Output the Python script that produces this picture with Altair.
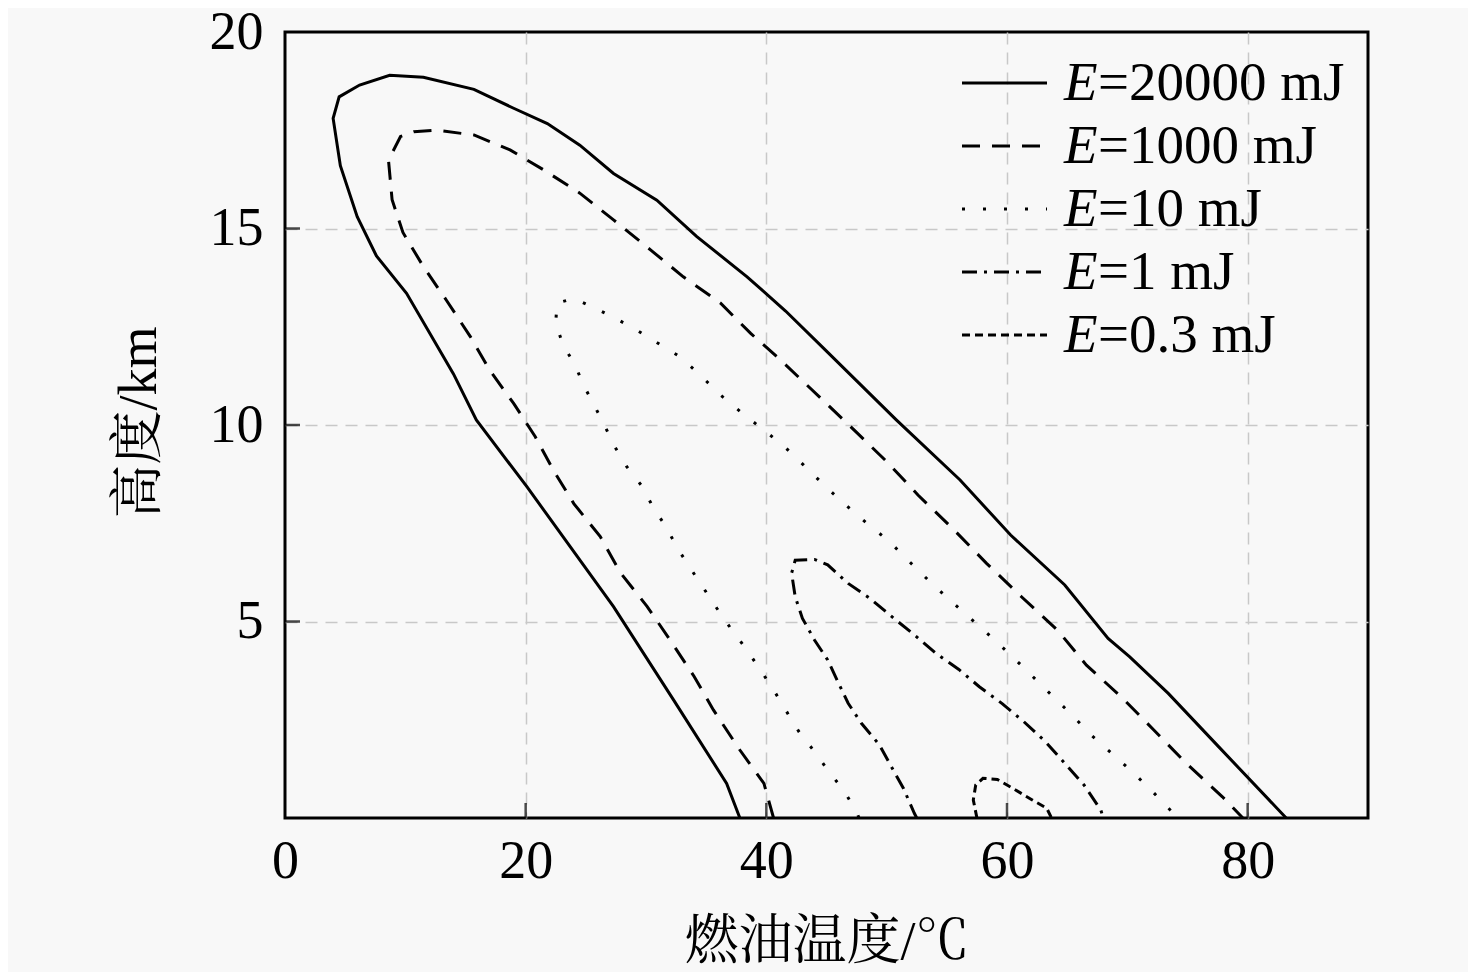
import altair as alt
import pandas as pd

# ---- data ----
t20000 = [37.8, 36.7, 32.3, 27.3, 20.1, 15.9, 14.0, 10.1, 7.6, 6.0, 4.6, 4.0, 4.5, 6.2, 8.7, 11.5,
          15.7, 19.0, 21.8, 24.5, 27.3, 30.9, 34.2, 38.4, 41.6, 45.0, 50.8, 56.1, 60.3, 64.8, 68.4,
          70.2, 73.4, 77.6, 83.2]
h20000 = [0, 0.88, 3.0, 5.38, 8.43, 10.13, 11.3, 13.35, 14.3, 15.3, 16.6, 17.8, 18.35, 18.65, 18.9,
          18.85, 18.54, 18.06, 17.67, 17.12, 16.4, 15.72, 14.8, 13.77, 12.9, 11.88, 10.13, 8.6, 7.2,
          5.93, 4.57, 4.1, 3.17, 1.81, 0]

t1000 = [40.6, 39.8, 37.8, 35.6, 34.0, 32.0, 30.1, 27.9, 26.2, 24.0, 22.3, 20.8, 19.0, 17.0, 15.4,
         13.4, 11.5, 9.8, 8.9, 8.6, 9.6, 10.7, 12.6, 15.7, 18.7, 21.5, 24.5, 27.3, 30.4, 33.1, 36.2,
         38.7, 41.2, 47.0, 50.0, 52.6, 55.6, 58.3, 61.2, 64.2, 66.6, 69.6, 72.2, 74.9, 77.9, 79.6]
h1000 = [0, 0.88, 1.73, 2.75, 3.6, 4.53, 5.38, 6.23, 7.16, 8.0, 8.85, 9.7, 10.55, 11.4, 12.25, 13.18,
         14.03, 14.9, 15.73, 16.74, 17.34, 17.46, 17.5, 17.38, 17.0, 16.49, 15.9, 15.22, 14.45, 13.77,
         13.1, 12.33, 11.65, 9.96, 9.07, 8.22, 7.33, 6.48, 5.63, 4.78, 3.89, 3.05, 2.24, 1.39, 0.54, 0]

t10 = [47.7, 47.5, 46.5, 45.2, 44.0, 42.7, 41.6, 40.6, 39.5, 38.4, 37.1, 35.9, 34.8, 33.7, 32.6,
       31.7, 30.6, 29.7, 28.4, 27.4, 26.6, 25.7, 24.8, 24.1, 23.1, 22.5, 22.6, 24.0, 25.8, 27.6,
       29.2, 31.0, 32.8, 34.5, 36.2, 38.0, 39.8, 41.5, 43.1, 44.8, 46.5, 48.3, 50.1, 51.7, 53.4,
       55.2, 56.8, 58.6, 60.3, 62.0, 63.7, 65.4, 67.0, 68.8, 70.4, 72.1, 73.7, 74.0]
h10 = [0, 0.16, 0.67, 1.18, 1.69, 2.2, 2.75, 3.26, 3.77, 4.27, 4.8, 5.33, 5.84, 6.35, 6.87, 7.39,
       7.9, 8.43, 8.94, 9.45, 9.96, 10.5, 11.02, 11.53, 12.04, 12.59, 13.1, 13.22, 12.97, 12.69,
       12.42, 12.08, 11.74, 11.27, 10.76, 10.3, 9.87, 9.45, 8.98, 8.47, 7.99, 7.51, 7.07, 6.58,
       6.07, 5.56, 5.12, 4.63, 4.15, 3.64, 3.13, 2.62, 2.11, 1.62, 1.18, 0.67, 0.16, 0]

t1 = [52.5, 52.3, 51.4, 50.4, 49.4, 47.9, 46.8, 46.0, 45.1, 44.0, 43.0, 42.4, 42.1, 42.4, 44.0,
      45.1, 46.8, 48.6, 50.6, 52.3, 54.1, 56.0, 57.7, 59.6, 61.4, 63.2, 64.8, 66.4, 67.8, 68.0]
h1 = [0, 0.12, 0.75, 1.3, 1.86, 2.41, 2.92, 3.43, 4.02, 4.53, 5.08, 5.63, 6.23, 6.56, 6.58, 6.44,
      5.97, 5.59, 5.08, 4.66, 4.19, 3.78, 3.34, 2.91, 2.45, 1.94, 1.39, 0.84, 0.2, 0]

t03 = [57.5, 57.2, 57.4, 58.0, 59.2, 60.5, 62.1, 63.3, 63.7]
h03 = [0, 0.46, 0.84, 1.01, 0.98, 0.75, 0.46, 0.25, 0]

energy_labels = ["20000", "1000", "10", "1", "0.3"]
x_ticks = [0, 20, 40, 60, 80]
y_ticks = [5, 10, 15, 20]

# ---- styling ----
FONT = "'Liberation Serif', 'Times New Roman', 'Noto Serif CJK SC', 'Noto Sans CJK SC', serif"
dashes = [None, [18, 12], [3, 18], [15, 7, 3, 7], [8, 5]]
series = [(t20000, h20000), (t1000, h1000), (t10, h10), (t1, h1), (t03, h03)]

X = alt.X("t:Q",
          scale=alt.Scale(domain=[0, 90], nice=False, zero=False),
          axis=alt.Axis(values=x_ticks, title="燃油温度/℃", labelPadding=16,
                        titleY=140, titleBaseline="alphabetic",
                        gridOpacity={"condition": {"test": "datum.value == 0", "value": 0}, "value": 1}))
Y = alt.Y("h:Q",
          scale=alt.Scale(domain=[0, 20], nice=False, zero=False),
          axis=alt.Axis(values=y_ticks, title="高度/km", labelPadding=22,
                        titleX=-130, titleY=390, titleAngle=270, titleBaseline="alphabetic",
                        titleAlign="center",
                        gridOpacity={"condition": {"test": "datum.value == 20", "value": 0}, "value": 1}))

layers = []
for (ts, hs), d in zip(series, dashes):
    df = pd.DataFrame({"t": ts, "h": hs, "i": range(len(ts))})
    kw = dict(color="black", strokeWidth=3)
    if d is not None:
        kw["strokeDash"] = d
    layers.append(alt.Chart(df).mark_line(**kw).encode(x=X, y=Y, order="i:Q"))

# inward tick marks
bx = pd.DataFrame({"t": x_ticks[1:]})
layers.append(alt.Chart(bx).mark_tick(orient="vertical", size=30, thickness=2.5, color="black",
                                      clip=True).encode(x=X, y=alt.datum(0)))
ly = pd.DataFrame({"h": y_ticks[:-1]})
layers.append(alt.Chart(ly).mark_tick(orient="horizontal", size=30, thickness=2.5, color="black",
                                      clip=True).encode(y=Y, x=alt.datum(0)))

# manual legend
one = pd.DataFrame({"a": [0]})
for i, (lab, d) in enumerate(zip(energy_labels, dashes)):
    yy = 51 + 63 * i
    kw = dict(color="black", strokeWidth=3)
    if d is not None:
        kw["strokeDash"] = d
    layers.append(alt.Chart(one).mark_rule(**kw).encode(
        x=alt.value(677), x2=alt.value(762), y=alt.value(yy)))
    layers.append(alt.Chart(one).mark_text(text="E", font=FONT, fontSize=55, fontStyle="italic",
                                           align="left", baseline="alphabetic", color="black").encode(
        x=alt.value(779), y=alt.value(yy + 17)))
    layers.append(alt.Chart(one).mark_text(text="=" + lab + " mJ", font=FONT, fontSize=55,
                                           align="left", baseline="alphabetic", color="black").encode(
        x=alt.value(813), y=alt.value(yy + 17)))

chart = alt.layer(*layers).properties(
    width=1083, height=786,
    autosize=alt.AutoSizeParams(type="none"),
    padding={"left": 277, "top": 24, "right": 100, "bottom": 154},
    background="#f8f8f8",
).configure_view(
    stroke="black", strokeWidth=3
).configure_axis(
    domain=False, ticks=False, grid=True, gridColor="#c8c8c8", gridDash=[12, 8], gridWidth=1.5,
    labelFont=FONT, labelFontSize=54, labelColor="black", labelFontWeight="normal",
    titleFont=FONT, titleFontSize=54, titleColor="black", titleFontWeight="normal",
    labelFlush=False,
)

chart.save("out.html", embed_options={"renderer": "svg", "actions": False})
